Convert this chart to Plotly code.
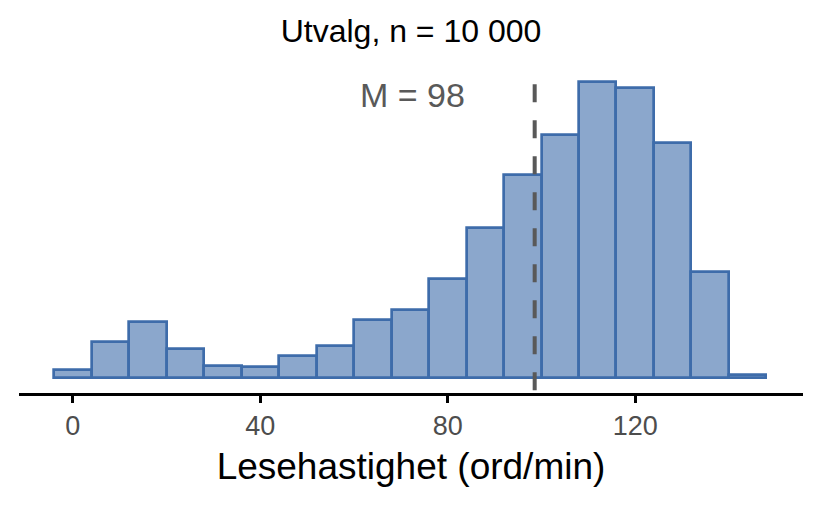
import plotly.graph_objects as go
import numpy as np

# Histogram of reading speed (bins of width 8, centred on the values below)
bin_centers = [0, 8, 16, 24, 32, 40, 48, 56, 64, 72, 80, 88, 96, 104, 112, 120, 128, 136, 144]
counts = [43, 184, 289, 147, 62, 57, 111, 162, 295, 348, 506, 768, 1037, 1242, 1513, 1479, 1199, 544, 14]
x_ticks = [0, 40, 80, 120]

title_text = "Utvalg, n = 10 000"
x_title = "Lesehastighet (ord/min)"
mean_label = "M = 98"

FONT = "Liberation Sans"
BAR_LINE = "#3e6caa"
BAR_FILL = "rgba(62, 108, 170, 0.6)"
GREY = "#595959"

mean_value = np.average(bin_centers, weights=counts)
ymax = max(counts)
ypad = 0.05 * ymax

fig = go.Figure()

fig.add_trace(go.Bar(
    x=bin_centers,
    y=counts,
    width=8,
    marker=dict(color=BAR_FILL, line=dict(color=BAR_LINE, width=2.7)),
    hoverinfo="skip",
))

# dashed mean line
fig.add_shape(
    type="line",
    xref="x", yref="y",
    x0=mean_value, x1=mean_value,
    y0=1500, y1=-ypad,
    line=dict(color=GREY, width=4, dash="18px,18px"),
    layer="above",
)

fig.add_annotation(
    x=mean_value - 26, y=1445,
    xref="x", yref="y",
    text=mean_label,
    showarrow=False,
    font=dict(family=FONT, size=34, color=GREY),
    xanchor="center", yanchor="middle",
)

# page body adds an 8px margin, so the figure is 806x492
fig.update_layout(
    width=806, height=492,
    margin=dict(l=11, r=11, t=59, b=107),
    plot_bgcolor="white",
    paper_bgcolor="white",
    showlegend=False,
    bargap=0,
    font=dict(family=FONT),
    title=dict(
        text=title_text,
        x=0.5, xanchor="center",
        y=1 - 23 / 492, yanchor="middle",
        font=dict(family=FONT, size=32, color="black"),
    ),
)

fig.update_xaxes(
    range=[-11.5, 155.8],
    tickvals=x_ticks,
    ticks="outside", ticklen=7, tickwidth=2.5, tickcolor="black",
    showline=True, linecolor="black", linewidth=2.5,
    showgrid=False, zeroline=False,
    tickfont=dict(family=FONT, size=27, color="#4d4d4d"),
    title=dict(text=x_title, font=dict(family=FONT, size=37, color="black"), standoff=13),
)

fig.update_yaxes(
    range=[-ypad, ymax + ypad],
    visible=False,
    showgrid=False, zeroline=False,
)

fig.write_html("out.html")
